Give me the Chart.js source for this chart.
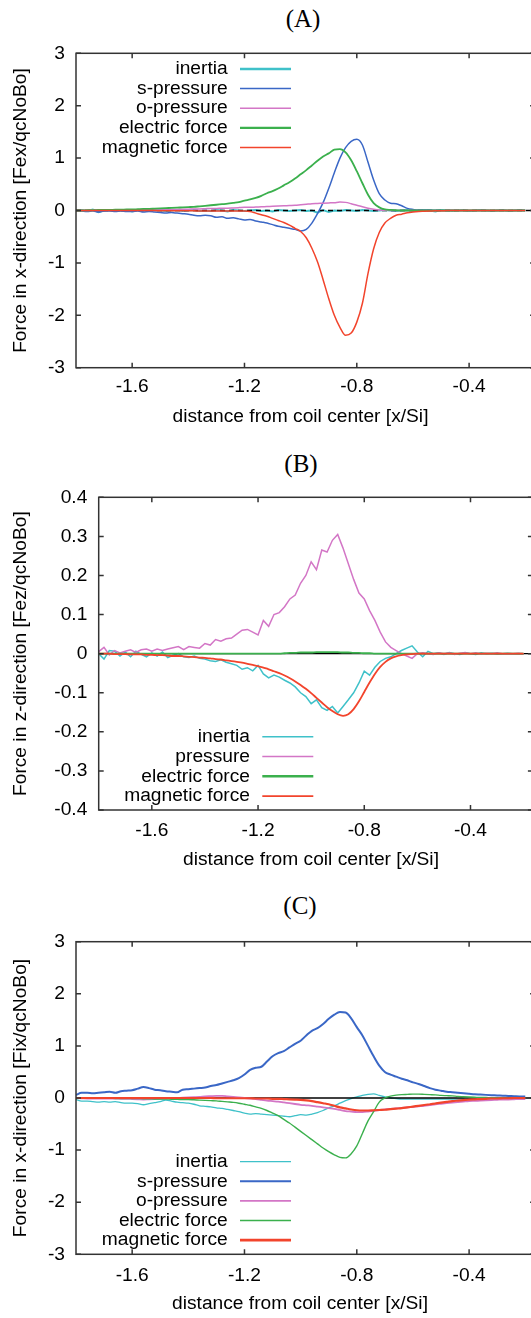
<!DOCTYPE html>
<html>
<head>
<meta charset="utf-8">
<script src="https://cdn.jsdelivr.net/npm/chart.js@4.4.1/dist/chart.umd.min.js"></script>
<style>
html, body { margin: 0; padding: 0; background: #fff; overflow: hidden; }
body { width: 531px; height: 1318px; position: relative; }
canvas { position: absolute; left: 0; }
.tag { position: absolute; font-family: "Liberation Serif", serif; font-size: 25px; line-height: 1; color: #000; transform: translate(-50%, -50%); }
</style>
</head>
<body>
<div class="tag" style="left:303px;top:18px">(A)</div>
<div class="tag" style="left:301px;top:463px">(B)</div>
<div class="tag" style="left:300px;top:905px">(C)</div>
<canvas id="cA" width="540" height="440" style="top:0"></canvas>
<canvas id="cB" width="540" height="440" style="top:440px"></canvas>
<canvas id="cC" width="540" height="438" style="top:880px"></canvas>
<script>
// sample positions along the coil axis, x/Si
const X_GRID = [
  -1.80, -1.78, -1.76, -1.74, -1.72, -1.70, -1.68, -1.66, -1.64, -1.62,
  -1.60, -1.58, -1.56, -1.54, -1.52, -1.50, -1.48, -1.46, -1.44, -1.42,
  -1.40, -1.38, -1.36, -1.34, -1.32, -1.30, -1.28, -1.26, -1.24, -1.22,
  -1.20, -1.18, -1.16, -1.14, -1.12, -1.10, -1.08, -1.06, -1.04, -1.02,
  -1.00, -0.98, -0.96, -0.94, -0.92, -0.90, -0.88, -0.86, -0.84, -0.82,
  -0.80, -0.78, -0.76, -0.74, -0.72, -0.70, -0.68, -0.66, -0.64, -0.62,
  -0.60, -0.58, -0.56, -0.54, -0.52, -0.50, -0.48, -0.46, -0.44, -0.42,
  -0.40, -0.38, -0.36, -0.34, -0.32, -0.30, -0.28, -0.26, -0.24, -0.22, -0.20
];
const X_MIN = -1.8, X_MAX = -0.165;
const X_TICKS = [-1.6, -1.2, -0.8, -0.4];
const Y_TICKS_WIDE = [-3, -2, -1, 0, 1, 2, 3];
const Y_TICKS_NARROW = [-0.4, -0.3, -0.2, -0.1, 0, 0.1, 0.2, 0.3, 0.4];
const X_TITLE = 'distance from coil center [x/Si]';

// (A) electrons, x-direction
const A_INERTIA = [
  0, 0.01, -0.01, 0.02, -0.03, 0, 0.01, -0.01, 0, 0.01,
  -0.02, 0.01, 0, -0.01, 0.01, 0, -0.01, 0, 0.01, -0.01,
  0, 0.01, -0.01, 0, -0.01, 0.01, 0, -0.02, 0.01, 0,
  -0.01, 0, 0.01, -0.01, 0, -0.02, 0.01, 0, -0.01, 0,
  0.01, -0.01, 0, -0.04, 0.01, -0.03, 0, -0.01, 0.01, 0,
  -0.01, 0.01, 0, -0.01, 0, 0.01, 0, -0.01, 0, 0.01,
  -0.01, 0, 0.01, 0, -0.02, 0.01, 0, -0.01, 0, 0.01,
  -0.01, 0, 0.01, 0, -0.01, 0, 0.01, -0.01, 0, 0.01, 0
];
const A_S_PRESSURE = [
  0, -0.01, -0.02, -0.01, -0.03, -0.01, -0.01, -0.02, -0.01, -0.02,
  -0.02, -0.01, -0.03, -0.02, -0.03, -0.04, -0.05, -0.04, -0.05, -0.06,
  -0.07, -0.09, -0.10, -0.09, -0.10, -0.13, -0.12, -0.15, -0.14, -0.16,
  -0.18, -0.17, -0.20, -0.22, -0.24, -0.27, -0.30, -0.32, -0.34, -0.36,
  -0.39, -0.36, -0.24, -0.06, 0.15, 0.42, 0.72, 1.00, 1.20, 1.32,
  1.36, 1.25, 0.92, 0.58, 0.32, 0.20, 0.14, 0.13, 0.09, 0.04,
  0.02, 0.01, 0.01, 0.01, 0.005, 0, 0, 0.005, 0, 0,
  0, 0, 0, 0, 0, 0, 0, 0, 0, 0, 0
];
const A_O_PRESSURE = [
  0, 0, 0, 0, 0.005, 0.005, 0.005, 0.01, 0.01, 0.01,
  0.01, 0.01, 0.015, 0.015, 0.015, 0.02, 0.02, 0.02, 0.02, 0.025,
  0.025, 0.03, 0.03, 0.035, 0.04, 0.04, 0.045, 0.045, 0.05, 0.055,
  0.06, 0.06, 0.065, 0.07, 0.075, 0.08, 0.085, 0.09, 0.095, 0.10,
  0.11, 0.12, 0.13, 0.135, 0.14, 0.145, 0.15, 0.16, 0.155, 0.13,
  0.10, 0.07, 0.045, 0.025, 0.01, 0.005, 0, 0, 0, 0,
  0, 0, 0, 0, 0, 0, 0, 0, 0, 0,
  0, 0, 0, 0, 0, 0, 0, 0, 0, 0, 0
];
const A_ELECTRIC = [
  0, 0, 0.005, 0.005, 0.01, 0.01, 0.01, 0.015, 0.015, 0.02,
  0.02, 0.025, 0.03, 0.03, 0.035, 0.04, 0.045, 0.05, 0.055, 0.06,
  0.065, 0.07, 0.08, 0.09, 0.10, 0.11, 0.12, 0.13, 0.145, 0.16,
  0.19, 0.21, 0.24, 0.28, 0.33, 0.37, 0.42, 0.48, 0.54, 0.61,
  0.69, 0.77, 0.86, 0.95, 1.03, 1.09, 1.16, 1.17, 1.11, 0.96,
  0.75, 0.52, 0.30, 0.14, 0.06, 0.02, 0.01, 0.005, 0, 0,
  0, 0, 0, 0, 0, 0, 0, 0, 0, 0,
  0, 0, 0, 0, 0, 0, 0, 0, 0, 0, 0
];
const A_MAGNETIC = [
  0, 0, 0, 0, 0, 0, 0, 0, 0, 0,
  0, 0, 0, 0, 0, -0.005, -0.005, -0.005, -0.005, -0.005,
  -0.005, -0.005, -0.01, -0.01, -0.01, -0.01, -0.01, -0.01, -0.01, -0.01,
  -0.01, -0.02, -0.05, -0.08, -0.11, -0.15, -0.19, -0.23, -0.28, -0.34,
  -0.40, -0.52, -0.72, -0.98, -1.32, -1.68, -2.00, -2.23, -2.38, -2.34,
  -2.13, -1.77, -1.20, -0.73, -0.42, -0.24, -0.15, -0.09, -0.07, -0.045,
  -0.03, -0.02, -0.015, -0.01, -0.005, -0.005, 0, 0, 0, 0,
  0, 0, 0, 0, 0, 0, 0, 0, 0, 0, 0
];

// (B) electrons, z-direction
const B_INERTIA = [
  0, -0.014, 0.008, 0.006, -0.006, 0.004, -0.008, 0.006, -0.002, -0.008,
  0.002, -0.006, 0.004, -0.01, -0.004, 0, -0.008, -0.01, -0.006, -0.012,
  -0.014, -0.018, -0.02, -0.016, -0.022, -0.026, -0.03, -0.04, -0.036, -0.044,
  -0.03, -0.052, -0.062, -0.055, -0.06, -0.068, -0.075, -0.085, -0.10, -0.11,
  -0.128, -0.118, -0.138, -0.145, -0.135, -0.152, -0.135, -0.118, -0.10, -0.075,
  -0.045, -0.055, -0.035, -0.02, -0.012, -0.008, 0, 0.008, 0.014, 0.02,
  0.004, -0.008, 0.006, 0, 0.002, -0.002, 0.003, 0, -0.002, 0.002,
  0, -0.002, 0.002, 0, 0.001, -0.001, 0, 0.001, 0, 0, 0
];
const B_PRESSURE = [
  0.005, 0.016, -0.003, 0.008, 0.002, 0.006, 0.01, 0.003, 0.01, 0.012,
  0.006, 0.012, 0.008, 0.012, 0.015, 0.018, 0.01, 0.018, 0.016, 0.014,
  0.026, 0.022, 0.036, 0.032, 0.038, 0.04, 0.05, 0.06, 0.062, 0.055,
  0.048, 0.085, 0.07, 0.10, 0.105, 0.12, 0.14, 0.15, 0.18, 0.20,
  0.235, 0.215, 0.265, 0.26, 0.29, 0.305, 0.27, 0.23, 0.19, 0.155,
  0.14, 0.11, 0.085, 0.055, 0.03, 0.016, 0.008, 0, -0.006, -0.012,
  0, 0.002, 0, -0.002, 0.002, 0, 0.002, -0.002, 0.001, 0.003,
  0, 0.002, -0.001, 0.001, 0, 0.002, 0, -0.001, 0, 0.001, 0
];
const B_ELECTRIC = [
  0, 0, 0, 0, 0, 0, 0, 0, 0, 0,
  0, 0, 0, 0, 0, 0, 0, 0, 0, 0,
  0, 0, 0, 0, 0, 0, 0, 0, 0, 0,
  0, 0, 0, 0, 0, 0.001, 0.002, 0.002, 0.003, 0.003,
  0.003, 0.004, 0.004, 0.004, 0.004, 0.004, 0.003, 0.003, 0.002, 0.002,
  0.001, 0.001, 0, 0, 0, 0, 0, 0, 0, 0,
  0, 0, 0, 0, 0, 0, 0, 0, 0, 0,
  0, 0, 0, 0, 0, 0, 0, 0, 0, 0, 0
];
const B_MAGNETIC = [
  0, 0, 0, -0.001, -0.001, -0.001, -0.002, -0.002, -0.002, -0.003,
  -0.003, -0.004, -0.004, -0.005, -0.006, -0.006, -0.007, -0.008, -0.009, -0.01,
  -0.011, -0.012, -0.014, -0.015, -0.017, -0.019, -0.021, -0.023, -0.026, -0.029,
  -0.032, -0.036, -0.04, -0.045, -0.05, -0.056, -0.063, -0.071, -0.08, -0.09,
  -0.101, -0.113, -0.125, -0.137, -0.147, -0.155, -0.159, -0.155, -0.142, -0.122,
  -0.098, -0.074, -0.052, -0.034, -0.021, -0.012, -0.007, -0.004, -0.002, -0.001,
  0, 0, 0, 0, 0, 0, 0, 0, 0, 0,
  0, 0, 0, 0, 0, 0, 0, 0, 0, 0, 0
];

// (C) ions, x-direction
const C_INERTIA = [
  -0.03, -0.06, -0.06, -0.07, -0.08, -0.07, -0.08, -0.07, -0.09, -0.10,
  -0.10, -0.11, -0.13, -0.11, -0.09, -0.07, -0.04, -0.06, -0.08, -0.09,
  -0.10, -0.12, -0.15, -0.16, -0.17, -0.19, -0.20, -0.22, -0.24, -0.26,
  -0.29, -0.31, -0.30, -0.31, -0.32, -0.33, -0.34, -0.35, -0.36, -0.34,
  -0.32, -0.33, -0.31, -0.28, -0.24, -0.19, -0.15, -0.10, -0.05, -0.01,
  0.02, 0.05, 0.07, 0.08, 0.05, 0.02, 0, -0.01, -0.02, -0.02,
  -0.02, -0.02, -0.02, -0.02, -0.02, -0.02, -0.02, -0.02, -0.02, -0.02,
  -0.02, -0.02, -0.02, -0.015, -0.015, -0.015, -0.01, -0.01, -0.01, -0.01, -0.01
];
const C_S_PRESSURE = [
  0.06, 0.10, 0.10, 0.09, 0.10, 0.11, 0.12, 0.10, 0.13, 0.14,
  0.15, 0.18, 0.21, 0.19, 0.16, 0.15, 0.13, 0.12, 0.11, 0.16,
  0.17, 0.18, 0.19, 0.20, 0.23, 0.25, 0.28, 0.31, 0.34, 0.38,
  0.45, 0.54, 0.58, 0.60, 0.70, 0.80, 0.86, 0.90, 0.97, 1.04,
  1.10, 1.20, 1.29, 1.34, 1.42, 1.52, 1.60, 1.65, 1.64, 1.53,
  1.36, 1.20, 1.00, 0.80, 0.62, 0.50, 0.45, 0.41, 0.37, 0.34,
  0.30, 0.27, 0.23, 0.19, 0.16, 0.14, 0.12, 0.11, 0.10, 0.09,
  0.08, 0.07, 0.065, 0.06, 0.055, 0.05, 0.045, 0.04, 0.035, 0.03, 0.03
];
const C_O_PRESSURE = [
  0, -0.005, -0.01, -0.01, -0.01, -0.01, -0.01, -0.01, -0.015, -0.015,
  -0.02, -0.025, -0.03, -0.025, -0.02, -0.015, -0.01, -0.005, 0, 0.005,
  0.01, 0.015, 0.02, 0.03, 0.035, 0.04, 0.04, 0.03, 0.02, 0.01,
  0, -0.01, -0.02, -0.035, -0.05, -0.06, -0.07, -0.085, -0.10, -0.115,
  -0.13, -0.14, -0.15, -0.165, -0.18, -0.195, -0.21, -0.23, -0.25, -0.26,
  -0.27, -0.27, -0.26, -0.245, -0.23, -0.22, -0.21, -0.20, -0.19, -0.18,
  -0.17, -0.16, -0.15, -0.135, -0.12, -0.11, -0.10, -0.09, -0.08, -0.07,
  -0.06, -0.055, -0.05, -0.045, -0.04, -0.035, -0.03, -0.03, -0.025, -0.02, -0.02
];
const C_ELECTRIC = [
  0, 0, -0.005, -0.005, -0.005, -0.005, -0.005, -0.01, -0.01, -0.01,
  -0.01, -0.01, -0.015, -0.015, -0.02, -0.02, -0.02, -0.025, -0.025, -0.03,
  -0.03, -0.035, -0.04, -0.045, -0.05, -0.055, -0.065, -0.075, -0.085, -0.10,
  -0.12, -0.14, -0.17, -0.20, -0.24, -0.29, -0.34, -0.41, -0.48, -0.56,
  -0.64, -0.72, -0.80, -0.88, -0.96, -1.03, -1.09, -1.14, -1.15, -1.07,
  -0.92, -0.68, -0.44, -0.26, -0.08, 0, 0.035, 0.055, 0.065, 0.07,
  0.075, 0.075, 0.07, 0.065, 0.06, 0.05, 0.045, 0.04, 0.03, 0.025,
  0.02, 0.015, 0.01, 0.01, 0.005, 0.005, 0.005, 0, 0, 0, 0
];
const C_MAGNETIC = [
  0, 0, 0, 0, 0, 0, 0, 0, 0, 0,
  0, 0, 0, 0, 0, 0, 0, 0, 0, 0,
  0, 0, 0, 0, 0, -0.005, -0.005, -0.005, -0.005, -0.005,
  -0.005, -0.005, -0.01, -0.01, -0.01, -0.015, -0.015, -0.02, -0.025, -0.03,
  -0.035, -0.045, -0.06, -0.08, -0.10, -0.12, -0.15, -0.18, -0.20, -0.22,
  -0.235, -0.24, -0.24, -0.235, -0.23, -0.225, -0.215, -0.205, -0.195, -0.18,
  -0.165, -0.15, -0.135, -0.12, -0.105, -0.09, -0.075, -0.06, -0.05, -0.04,
  -0.03, -0.025, -0.02, -0.015, -0.01, -0.01, -0.005, -0.005, 0, 0, 0
];

const CYAN = '#3fc1c9', BLUE = '#3a67c6', PINK = '#d376c6', GREEN = '#3bb04d', RED = '#f2442c';
const SANS = '"Liberation Sans", Arial, sans-serif';
const FONT_PX = 19.2;
const TEXT = '#000';

Chart.defaults.font.family = SANS;
Chart.defaults.font.size = FONT_PX;
Chart.defaults.color = TEXT;

function fmt(v) {
  return String(Math.round(v * 10) / 10);
}

// gnuplot-like frame: zero axis laid over the inertia curve, border with inward ticks,
// the key on top and the x label centred on the figure rather than on the plot box
const frame = {
  id: 'frame',
  afterDatasetDraw(chart, args, opts) {
    if (args.index !== 0) return;
    const {ctx, chartArea: a} = chart;
    const y0 = chart.scales.y.getPixelForValue(0);
    ctx.save();
    ctx.strokeStyle = '#000';
    ctx.lineWidth = 1.4;
    ctx.setLineDash(opts.zeroDash || []);
    ctx.beginPath();
    ctx.moveTo(a.left, y0);
    ctx.lineTo(a.right, y0);
    ctx.stroke();
    ctx.restore();
  },
  afterDatasetsDraw(chart, args, opts) {
    const {ctx, chartArea: a, scales: {x, y}} = chart;
    const t = 5;
    ctx.save();
    ctx.strokeStyle = '#333';
    ctx.lineWidth = 1.5;
    ctx.strokeRect(a.left, a.top, a.right - a.left, a.bottom - a.top);
    ctx.beginPath();
    x.ticks.forEach(tk => {
      const px = x.getPixelForValue(tk.value);
      ctx.moveTo(px, a.bottom); ctx.lineTo(px, a.bottom - t);
      ctx.moveTo(px, a.top); ctx.lineTo(px, a.top + t);
    });
    y.ticks.forEach(tk => {
      const py = y.getPixelForValue(tk.value);
      ctx.moveTo(a.left, py); ctx.lineTo(a.left + t, py);
      ctx.moveTo(a.right, py); ctx.lineTo(a.right - t, py);
    });
    ctx.stroke();

    ctx.font = FONT_PX + 'px ' + SANS;
    ctx.fillStyle = TEXT;
    ctx.textBaseline = 'middle';
    ctx.textAlign = 'center';
    ctx.fillText(X_TITLE, opts.xTitleX, x.bottom - FONT_PX * 0.6);

    const k = opts.key;
    ctx.textAlign = 'right';
    chart.data.datasets.forEach((ds, i) => {
      const ky = k.top + i * k.step;
      ctx.fillStyle = TEXT;
      ctx.fillText(ds.label, k.right, ky);
      ctx.strokeStyle = ds.borderColor;
      ctx.lineWidth = ds.keyWidth || ds.borderWidth;
      ctx.beginPath();
      ctx.moveTo(k.right + 12.3, ky);
      ctx.lineTo(k.right + 63.3, ky);
      ctx.stroke();
    });
    ctx.restore();
  }
};

function panel(id, cfg) {
  const n = cfg.series.length;
  new Chart(document.getElementById(id), {
    type: 'line',
    data: {
      datasets: cfg.series.map((s, i) => ({
        label: s.label,
        data: X_GRID.map((x, j) => ({x: x, y: s.values[j]})),
        borderColor: s.color,
        borderWidth: s.width,
        keyWidth: s.keyWidth,
        pointRadius: 0,
        tension: 0,
        cubicInterpolationMode: s.smooth ? 'monotone' : 'default',
        order: n - i
      }))
    },
    options: {
      responsive: false,
      animation: false,
      events: [],
      devicePixelRatio: 1,
      layout: {padding: {top: cfg.top, bottom: cfg.bottom, left: 0, right: cfg.right}},
      plugins: {
        legend: {display: false},
        tooltip: {enabled: false},
        frame: {key: cfg.key, zeroDash: cfg.zeroDash, xTitleX: cfg.xTitleX}
      },
      scales: {
        x: {
          type: 'linear', min: X_MIN, max: X_MAX,
          afterBuildTicks: s => { s.ticks = X_TICKS.map(v => ({value: v})); },
          afterFit: s => { s.height = cfg.xH; },
          grid: {display: false, drawTicks: false},
          border: {display: false},
          ticks: {padding: cfg.xPad, maxRotation: 0, autoSkip: false, callback: v => fmt(v)},
          title: {display: false}
        },
        y: {
          type: 'linear', min: cfg.yTicks[0], max: cfg.yTicks[cfg.yTicks.length - 1],
          afterBuildTicks: s => { s.ticks = cfg.yTicks.map(v => ({value: v})); },
          afterFit: s => { s.width = cfg.yW; },
          grid: {display: false, drawTicks: false},
          border: {display: false},
          ticks: {padding: cfg.yPad, callback: v => fmt(v)},
          title: {display: true, text: cfg.yTitle, padding: {top: 9.2, bottom: 0}}
        }
      }
    },
    plugins: [frame]
  });
}

panel('cA', {
  top: 53.3, bottom: 11.8, right: 4.9, xH: 60.5, xPad: 7.5, yW: 76, yPad: 11, xTitleX: 300.5,
  yTicks: Y_TICKS_WIDE, yTitle: 'Force in x-direction [Fex/qcNoBo]',
  key: {right: 227.7, top: 69, step: 19.6}, zeroDash: [5, 4],
  series: [
    {label: 'inertia', values: A_INERTIA, color: CYAN, width: 2, keyWidth: 2.6},
    {label: 's-pressure', values: A_S_PRESSURE, color: BLUE, width: 1.5, smooth: true},
    {label: 'o-pressure', values: A_O_PRESSURE, color: PINK, width: 1.5, smooth: true},
    {label: 'electric force', values: A_ELECTRIC, color: GREEN, width: 1.8, keyWidth: 2.2, smooth: true},
    {label: 'magnetic force', values: A_MAGNETIC, color: RED, width: 1.5, smooth: true}
  ]
});

panel('cB', {
  top: 57.3, bottom: 9.2, right: 7.1, xH: 60.8, xPad: 9.2, yW: 98.7, yPad: 11.4, xTitleX: 311,
  yTicks: Y_TICKS_NARROW, yTitle: 'Force in z-direction [Fez/qcNoBo]',
  key: {right: 250, top: 296.7, step: 19.8}, zeroDash: [],
  series: [
    {label: 'inertia', values: B_INERTIA, color: CYAN, width: 1.5},
    {label: 'pressure', values: B_PRESSURE, color: PINK, width: 1.5},
    {label: 'electric force', values: B_ELECTRIC, color: GREEN, width: 1.8, keyWidth: 2.5, smooth: true},
    {label: 'magnetic force', values: B_MAGNETIC, color: RED, width: 1.8, smooth: true}
  ]
});

panel('cC', {
  top: 61.7, bottom: 2.5, right: 4.9, xH: 61.2, xPad: 10.2, yW: 76, yPad: 11, xTitleX: 300,
  yTicks: Y_TICKS_WIDE, yTitle: 'Force in x-direction [Fix/qcNoBo]',
  key: {right: 227.7, top: 281.7, step: 19.6}, zeroDash: [],
  series: [
    {label: 'inertia', values: C_INERTIA, color: CYAN, width: 1.3, smooth: true},
    {label: 's-pressure', values: C_S_PRESSURE, color: BLUE, width: 2, smooth: true},
    {label: 'o-pressure', values: C_O_PRESSURE, color: PINK, width: 1.8, smooth: true},
    {label: 'electric force', values: C_ELECTRIC, color: GREEN, width: 1.4, smooth: true},
    {label: 'magnetic force', values: C_MAGNETIC, color: RED, width: 2.2, keyWidth: 2.8, smooth: true}
  ]
});
</script>
</body>
</html>
